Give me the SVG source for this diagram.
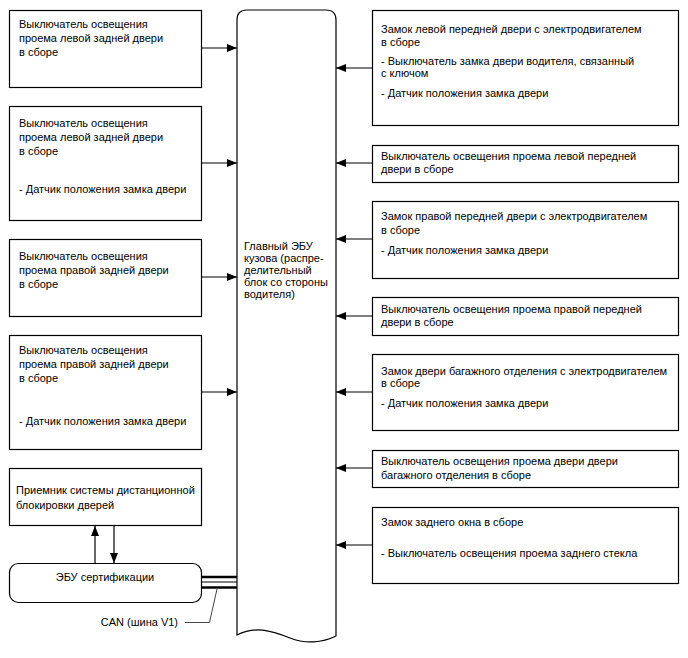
<svg xmlns="http://www.w3.org/2000/svg" width="688" height="658" viewBox="0 0 688 658">
<style>
.box{fill:#fff;stroke:#000;stroke-width:1.2}
.ln{fill:none;stroke:#000;stroke-width:1.2}
text{font-family:"Liberation Sans",Arial,sans-serif;font-size:11px;fill:#000}
</style>
<defs>
<marker id="ah" viewBox="0 0 10 8" refX="10" refY="4" markerWidth="10" markerHeight="8" markerUnits="userSpaceOnUse" orient="auto">
<path d="M0,0 L10,4 L0,8 Z" fill="#000"/>
</marker>
</defs>
<rect width="688" height="658" fill="#fff"/>

<g id="main">
<path class="box" d="M237,635 L237,20 Q237,10 247,10 L326,10 Q336,10 336,20 L336,636 C322,643 305,644 290,638 C270,630 255,626 237,635 Z"/>
<text x="244" y="250">Главный ЭБУ</text>
<text x="244" y="262">кузова (распре-</text>
<text x="244" y="274">делительный</text>
<text x="244" y="286">блок со стороны</text>
<text x="244" y="298">водителя)</text>
</g>

<g id="L1">
<rect class="box" x="9.5" y="10.5" width="192" height="77"/>
<text x="19" y="28">Выключатель освещения</text>
<text x="19" y="42">проема левой задней двери</text>
<text x="19" y="56">в сборе</text>
</g>
<g id="L2">
<rect class="box" x="9.5" y="106.5" width="192" height="114"/>
<text x="19" y="127">Выключатель освещения</text>
<text x="19" y="141">проема левой задней двери</text>
<text x="19" y="155">в сборе</text>
<text x="19" y="193">- Датчик положения замка двери</text>
</g>
<g id="L3">
<rect class="box" x="9.5" y="239.5" width="192" height="77"/>
<text x="19" y="260">Выключатель освещения</text>
<text x="19" y="274">проема правой задней двери</text>
<text x="19" y="288">в сборе</text>
</g>
<g id="L4">
<rect class="box" x="9.5" y="335.5" width="192" height="114"/>
<text x="19" y="354">Выключатель освещения</text>
<text x="19" y="368">проема правой задней двери</text>
<text x="19" y="382">в сборе</text>
<text x="19" y="425">- Датчик положения замка двери</text>
</g>
<g id="L5">
<rect class="box" x="9.5" y="468.5" width="192" height="57"/>
<text x="16" y="494">Приемник системы дистанционной</text>
<text x="16" y="509">блокировки дверей</text>
</g>
<g id="cert">
<rect class="box" x="9.5" y="563.5" width="192" height="39" rx="9" ry="9"/>
<text x="105" y="581" text-anchor="middle">ЭБУ сертификации</text>
</g>

<g id="R1">
<rect class="box" x="372.5" y="10.5" width="306" height="115"/>
<text x="381" y="33">Замок левой передней двери с электродвигателем</text>
<text x="381" y="46">в сборе</text>
<text x="381" y="65">- Выключатель замка двери водителя, связанный</text>
<text x="381" y="77">с ключом</text>
<text x="381" y="97">- Датчик положения замка двери</text>
</g>
<g id="R2">
<rect class="box" x="372.5" y="145.5" width="306" height="37"/>
<text x="381" y="160">Выключатель освещения проема левой передней</text>
<text x="381" y="173">двери в сборе</text>
</g>
<g id="R3">
<rect class="box" x="372.5" y="201.5" width="306" height="77"/>
<text x="381" y="220">Замок правой передней двери с электродвигателем</text>
<text x="381" y="234">в сборе</text>
<text x="381" y="254">- Датчик положения замка двери</text>
</g>
<g id="R4">
<rect class="box" x="372.5" y="297.5" width="306" height="38"/>
<text x="381" y="313">Выключатель освещения проема правой передней</text>
<text x="381" y="326">двери в сборе</text>
</g>
<g id="R5">
<rect class="box" x="372.5" y="354.5" width="306" height="76"/>
<text x="381" y="375">Замок двери багажного отделения с электродвигателем</text>
<text x="381" y="387">в сборе</text>
<text x="381" y="407">- Датчик положения замка двери</text>
</g>
<g id="R6">
<rect class="box" x="372.5" y="450.5" width="306" height="37"/>
<text x="381" y="465">Выключатель освещения проема двери двери</text>
<text x="381" y="479">багажного отделения в сборе</text>
</g>
<g id="R7">
<rect class="box" x="372.5" y="507.5" width="306" height="76"/>
<text x="381" y="526">Замок заднего окна в сборе</text>
<text x="381" y="557">- Выключатель освещения проема заднего стекла</text>
</g>

<g id="connectors">
<line class="ln" x1="201.5" y1="48" x2="237" y2="48" marker-end="url(#ah)"/>
<line class="ln" x1="201.5" y1="163" x2="237" y2="163" marker-end="url(#ah)"/>
<line class="ln" x1="201.5" y1="277" x2="237" y2="277" marker-end="url(#ah)"/>
<line class="ln" x1="201.5" y1="392" x2="237" y2="392" marker-end="url(#ah)"/>
<line class="ln" x1="372.5" y1="68" x2="336" y2="68" marker-end="url(#ah)"/>
<line class="ln" x1="372.5" y1="163" x2="336" y2="163" marker-end="url(#ah)"/>
<line class="ln" x1="372.5" y1="239" x2="336" y2="239" marker-end="url(#ah)"/>
<line class="ln" x1="372.5" y1="316" x2="336" y2="316" marker-end="url(#ah)"/>
<line class="ln" x1="372.5" y1="392" x2="336" y2="392" marker-end="url(#ah)"/>
<line class="ln" x1="372.5" y1="468" x2="336" y2="468" marker-end="url(#ah)"/>
<line class="ln" x1="372.5" y1="545" x2="336" y2="545" marker-end="url(#ah)"/>
<line class="ln" x1="95" y1="563" x2="95" y2="526" marker-end="url(#ah)"/>
<line class="ln" x1="114" y1="526" x2="114" y2="563" marker-end="url(#ah)"/>
<line x1="201.5" y1="577" x2="237" y2="577" stroke="#000" stroke-width="2.6"/>
<line x1="201.5" y1="582" x2="237" y2="582" stroke="#000" stroke-width="1.2"/>
<line x1="201.5" y1="587.5" x2="237" y2="587.5" stroke="#000" stroke-width="2.6"/>
<polyline fill="none" stroke="#444" stroke-width="1" points="217,589 209.5,622.5 185,622.5"/>
</g>
<text x="178" y="626" text-anchor="end">CAN (шина V1)</text>
</svg>
